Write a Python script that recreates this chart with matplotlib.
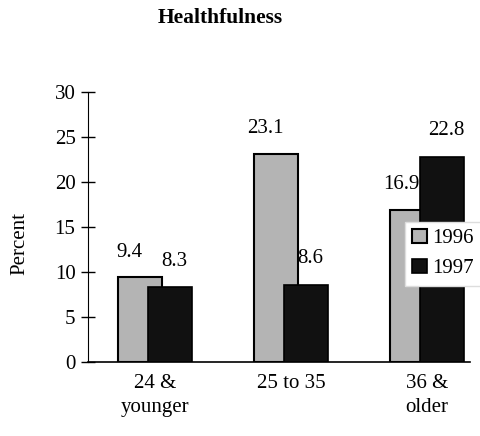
import numpy as np
import matplotlib
matplotlib.use("Agg")
import matplotlib.pyplot as plt

plt.rcParams['font.family'] = ['Liberation Serif', 'DejaVu Serif']

# Daten
groups = ["24 &\nyounger", "25 to 35", "36 &\nolder"]
vals_1996 = [9.4, 23.1, 16.9]
vals_1997 = [8.3, 8.6, 22.8]
years = ["1996", "1997"]

fig = plt.figure(figsize=(4.81, 4.36), dpi=100)
ax = fig.add_axes([0.183, 0.170, 0.794, 0.619])

x = np.arange(len(groups))
w = 0.324
ax.bar(x - 0.110, vals_1996, w, color='#b4b4b4', edgecolor='black', linewidth=1.5,
       label=years[0], zorder=2)
ax.bar(x + 0.110, vals_1997, w, color='#111111', edgecolor='black', linewidth=1.2,
       label=years[1], zorder=3)

# Werte über den Balken
for i in range(len(groups)):
    ax.text(x[i] - 0.19, vals_1996[i] + 2.8, f"{vals_1996[i]}", ha='center', va='center', fontsize=15)
    ax.text(x[i] + 0.14, vals_1997[i] + 2.9, f"{vals_1997[i]}", ha='center', va='center', fontsize=15)

ax.set_xlim(-0.493, 2.316)
ax.set_ylim(0, 30)
ax.set_yticks(range(0, 31, 5))
ax.set_xticks(x)
ax.set_xticklabels(groups, fontsize=15, linespacing=1.35)
ax.tick_params(axis='x', length=0, pad=9)
ax.tick_params(axis='y', direction='inout', length=10, width=1, labelsize=15, pad=4)

for s in ['top', 'right']:
    ax.spines[s].set_visible(False)
ax.spines['left'].set_linewidth(0.8)
ax.spines['bottom'].set_linewidth(1.2)

leg = ax.legend(loc='upper left', bbox_to_anchor=(0.83, 0.52), fontsize=15, frameon=True,
                fancybox=False, edgecolor='#dddddd', framealpha=1, handlelength=0.7,
                handleheight=0.7, handletextpad=0.25, borderpad=0.35, labelspacing=0.5,
                borderaxespad=0)
leg.set_zorder(5)

fig.text(20 / 481, 1 - 243 / 436, "Percent", rotation=90, ha='center', va='center', fontsize=15)
fig.text(220 / 481, 1 - 18 / 436, "Healthfulness", ha='center', va='center', fontsize=15.5,
         fontweight='bold')

fig.savefig("out.png", dpi=100)
